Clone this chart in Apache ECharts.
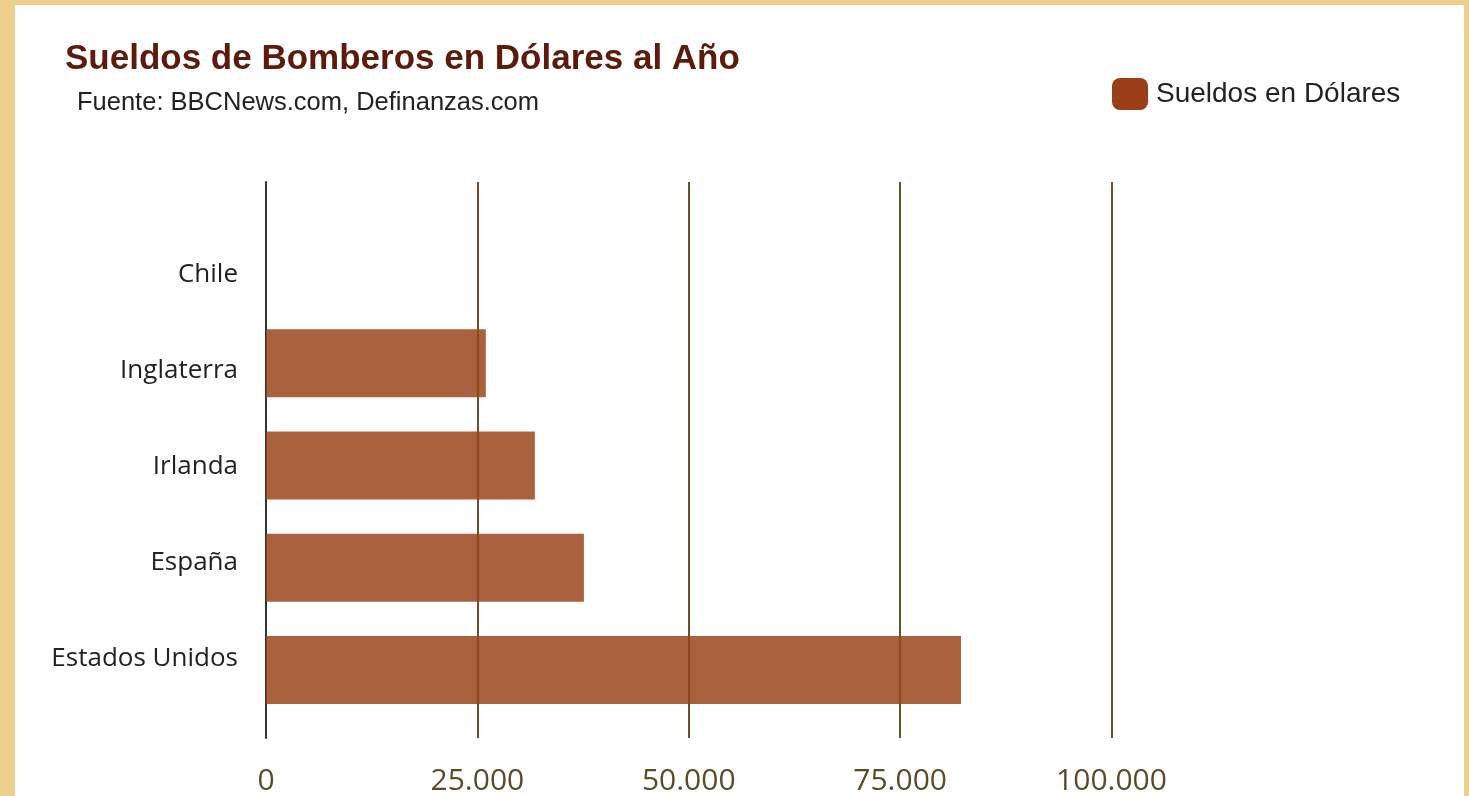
<!DOCTYPE html>
<html>
<head>
<meta charset="utf-8">
<script src="https://cdn.jsdelivr.net/npm/echarts@6/dist/echarts.min.js"></script>
<style>
html,body{margin:0;padding:0;width:1469px;height:796px;background:#ECD08C;overflow:hidden;}
#panel{position:absolute;left:15px;top:5px;width:1449px;height:791px;background:#ffffff;}
#chart{position:absolute;left:0;top:0;width:1469px;height:796px;}
</style>
</head>
<body>
<div id="panel"></div>
<div id="chart"></div>
<script>
const categories = ['Chile', 'Inglaterra', 'Irlanda', 'España', 'Estados Unidos'];
const sueldos = [0, 26000, 31800, 37600, 82200];
const xTicks = [0, 25000, 50000, 75000, 100000];
const seriesName = 'Sueldos en Dólares';
const titleText = 'Sueldos de Bomberos en Dólares al Año';
const sourceText = 'Fuente: BBCNews.com, Definanzas.com';

const chart = echarts.init(document.getElementById('chart'));
const fmt = v => String(v).replace(/\B(?=(\d{3})+(?!\d))/g, '.');
const labelFont = '"Open Sans", Lato, sans-serif';
const arial = '"Liberation Sans", Arial, sans-serif';

chart.setOption({
  backgroundColor: 'transparent',
  animation: false,
  title: [
    { text: titleText, left: 60, top: 37,
      textStyle: { fontFamily: arial, fontWeight: 'bold', fontSize: 35, color: '#5E1A0B' } },
    { text: sourceText, left: 72, top: 85,
      textStyle: { fontFamily: arial, fontWeight: 'normal', fontSize: 25.5, color: '#222222' } }
  ],
  legend: {
    data: [{ name: seriesName, itemStyle: { opacity: 1, color: '#9B3F1A' } }],
    left: 1107, top: 73,
    itemWidth: 36, itemHeight: 32,
    icon: 'roundRect',
    textStyle: { fontFamily: arial, fontSize: 28, color: '#222222', padding: [14, 0, 0, 3] }
  },
  grid: [
    { left: 266, right: 357.5, top: 210, height: 511 },
    { left: 266, right: 357.5, top: 182, height: 556 },
    { left: 266, right: 357.5, top: 226, height: 481 }
  ],
  xAxis: [
    { type: 'value', gridIndex: 0, min: 0, max: 100000, show: false },
    { type: 'value', gridIndex: 1, min: 0, max: 100000, interval: 25000,
      axisLine: { show: false }, axisTick: { show: false },
      splitLine: { show: true, showMinLine: false, lineStyle: { color: '#6B5028', width: 2 } },
      axisLabel: { formatter: v => fmt(v), color: '#5E4A26', fontSize: 30, fontFamily: labelFont, margin: 28,
        customValues: xTicks } },
    { type: 'value', gridIndex: 2, min: 0, max: 100000, show: false }
  ],
  yAxis: [
    { type: 'category', gridIndex: 0, data: categories, inverse: true, show: false },
    { type: 'value', gridIndex: 1, min: 0, max: 1,
      axisLine: { show: true, lineStyle: { color: '#333333', width: 2 } },
      axisTick: { show: false }, axisLabel: { show: false }, splitLine: { show: false } },
    { type: 'category', gridIndex: 2, data: categories, inverse: true,
      axisLine: { show: false }, axisTick: { show: false }, splitLine: { show: false },
      axisLabel: { color: '#222222', fontSize: 26, fontFamily: labelFont, margin: 28 } }
  ],
  series: [
    { name: seriesName, type: 'bar', xAxisIndex: 0, yAxisIndex: 0, data: sueldos,
      barWidth: 68,
      itemStyle: { color: '#9A4318', opacity: 0.84 } }
  ]
});
</script>
</body>
</html>
